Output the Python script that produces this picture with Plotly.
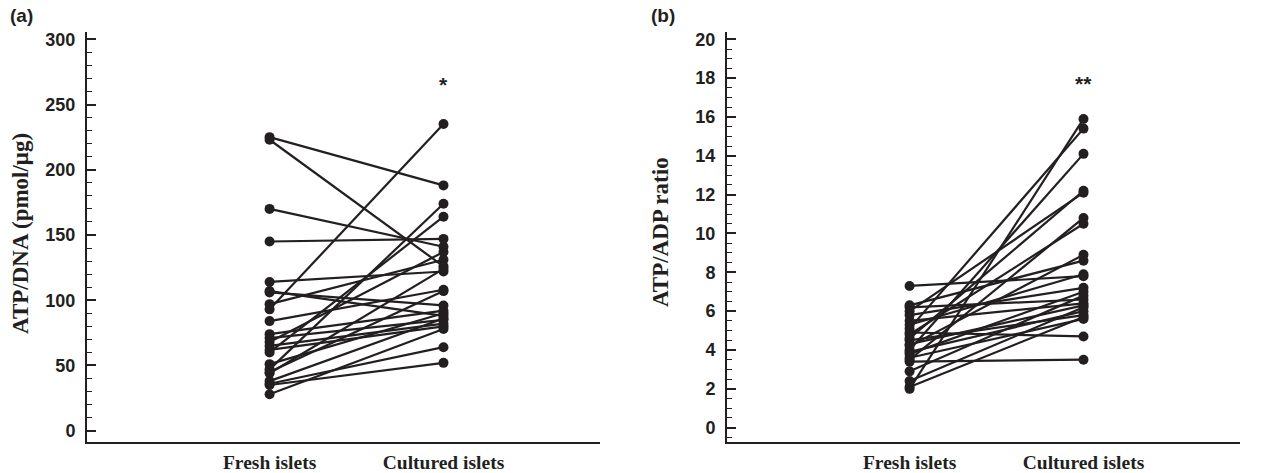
import plotly.graph_objects as go

groups = ["Fresh islets", "Cultured islets"]

# Panel (a): ATP/DNA (pmol/ug)
atp_dna_fresh = [225, 223, 170, 145, 114, 107, 106, 97, 93, 84, 74, 71, 68, 65, 62, 60, 51, 47, 45, 44, 38, 36, 35, 28]
atp_dna_cultured = [188, 126, 141, 147, 122, 88, 96, 131, 235, 108, 92, 85, 137, 82, 80, 164, 90, 174, 107, 124, 86, 64, 52, 78]

# Panel (b): ATP/ADP ratio
ratio_fresh = [7.3, 6.3, 6.2, 6.0, 5.8, 5.5, 5.3, 5.1, 4.9, 4.8, 4.6, 4.5, 4.3, 4.2, 4.0, 3.9, 3.8, 3.6, 3.5, 3.4, 2.9, 2.4, 2.1, 2.0]
ratio_cultured = [7.8, 8.6, 6.6, 12.1, 7.2, 6.4, 7.9, 15.4, 4.7, 10.5, 12.2, 5.8, 6.3, 8.9, 14.1, 6.0, 7.0, 5.6, 10.8, 3.5, 6.8, 6.2, 5.7, 15.9]

left_ticks = [0, 50, 100, 150, 200, 250, 300]
right_ticks = [0, 2, 4, 6, 8, 10, 12, 14, 16, 18, 20]

INK = "#231f20"

def paired(fresh, cult):
    xs, ys = [], []
    for a, b in zip(fresh, cult):
        xs += [1, 2, None]
        ys += [a, b, None]
    return xs, ys

fig = go.Figure()
xa, ya = paired(atp_dna_fresh, atp_dna_cultured)
fig.add_trace(go.Scatter(x=xa, y=ya, mode="lines+markers", xaxis="x", yaxis="y",
                         line=dict(color=INK, width=2.2), marker=dict(color=INK, size=10),
                         showlegend=False, hoverinfo="skip"))
xb, yb = paired(ratio_fresh, ratio_cultured)
fig.add_trace(go.Scatter(x=xb, y=yb, mode="lines+markers", xaxis="x2", yaxis="y2",
                         line=dict(color=INK, width=2.2), marker=dict(color=INK, size=10),
                         showlegend=False, hoverinfo="skip"))

xcommon = dict(range=[-0.05, 2.9], showline=True, linecolor=INK, linewidth=2,
               tickvals=[1, 2], ticktext=["<b>%s</b>" % g for g in groups], ticks="",
               showgrid=False, zeroline=False,
               tickfont=dict(family="Liberation Serif", size=19.5, color=INK),
               ticklabelstandoff=1)
ycommon = dict(showline=True, linecolor=INK, linewidth=2, ticks="inside", ticklen=9,
               tickwidth=1.5, tickcolor=INK, showgrid=False, zeroline=False,
               tickfont=dict(family="Liberation Sans", size=18, color=INK),
               ticklabelstandoff=6)

fig.update_layout(
    width=1266, height=473, margin=dict(l=0, r=0, t=0, b=0),
    paper_bgcolor="white", plot_bgcolor="white",
    xaxis=dict(domain=[87/1266, 600/1266], anchor="y", **xcommon),
    yaxis=dict(domain=[1-447/473, 1-30/473], anchor="x", range=[-9.0, 305.2],
               tickvals=left_ticks, ticktext=["<b>%d</b>" % v for v in left_ticks],
               minor=dict(dtick=10, ticks="inside", ticklen=5, tickwidth=1.2, tickcolor=INK),
               **ycommon),
    xaxis2=dict(domain=[727/1266, 1240/1266], anchor="y2", **xcommon),
    yaxis2=dict(domain=[1-447/473, 1-30/473], anchor="x2", range=[-0.76, 20.35],
                tickvals=right_ticks, ticktext=["<b>%d</b>" % v for v in right_ticks],
                minor=dict(dtick=0.5, ticks="inside", ticklen=5, tickwidth=1.2, tickcolor=INK),
                **ycommon),
    annotations=[
        dict(text="<b>(a)</b>", xref="paper", yref="paper", x=8/1266, y=1-13/473, xanchor="left", yanchor="middle",
             showarrow=False, font=dict(family="Liberation Sans", size=19, color=INK)),
        dict(text="<b>(b)</b>", xref="paper", yref="paper", x=649/1266, y=1-13/473, xanchor="left", yanchor="middle",
             showarrow=False, font=dict(family="Liberation Sans", size=19, color=INK)),
        dict(text="<b>ATP/DNA (pmol/μg)</b>", xref="paper", yref="paper", x=20/1266, y=1-235/473,
             textangle=-90, showarrow=False, xanchor="center", yanchor="middle",
             font=dict(family="Liberation Serif", size=23, color=INK)),
        dict(text="<b>ATP/ADP ratio</b>", xref="paper", yref="paper", x=660/1266, y=1-233/473,
             textangle=-90, showarrow=False, xanchor="center", yanchor="middle",
             font=dict(family="Liberation Serif", size=23, color=INK)),
        dict(text="<b>*</b>", xref="x", yref="y", x=2, y=265, showarrow=False,
             font=dict(family="Liberation Sans", size=21, color=INK)),
        dict(text="<b>**</b>", xref="x2", yref="y2", x=2, y=17.7, showarrow=False,
             font=dict(family="Liberation Sans", size=21, color=INK)),
    ],
)

fig.write_html("out.html")
